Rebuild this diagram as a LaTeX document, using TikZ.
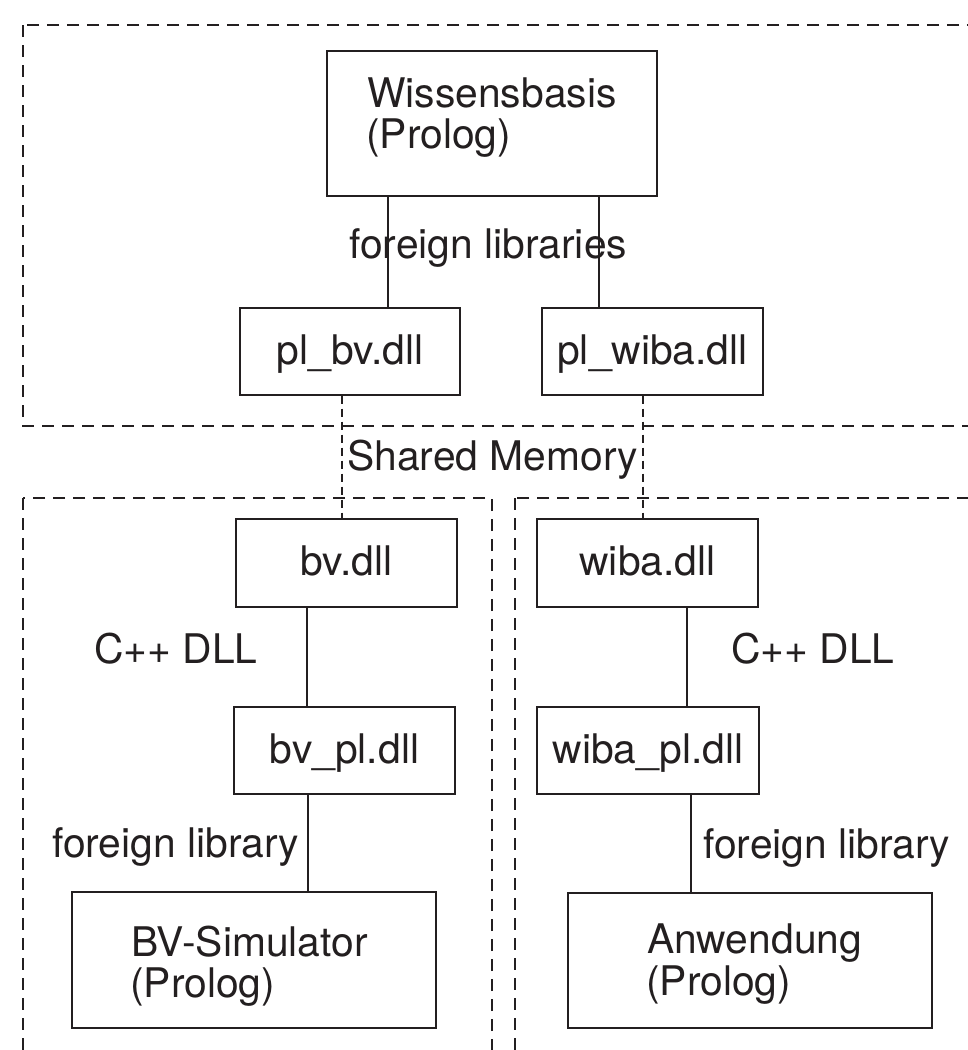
\documentclass[tikz,border=0pt]{standalone}
\usepackage{fontspec}
\setmainfont{TeX Gyre Heros}
\definecolor{ink}{RGB}{35,31,32}
\begin{document}
\begin{tikzpicture}[x=1pt,y=-1pt,
  txt/.style={font=\fontsize{40.8pt}{41pt}\selectfont, text=ink},
  box/.style={draw=ink, line width=1.3pt, inner sep=0pt, txt},
  dllbox/.style={box, text height=25pt, text depth=0pt},
  lbl/.style={txt, inner sep=0pt, anchor=base west},
  frame/.style={draw=ink, line width=1.3pt, dash pattern=on 12pt off 8pt},
  link/.style={draw=ink, line width=1.2pt},
  shm/.style={draw=ink, line width=1.2pt, dash pattern=on 8pt off 5pt}]
\useasboundingbox (0,0) rectangle (968,1050);
\fill[white] (0,0) rectangle (968,1050);
\clip (0,0) rectangle (968,1050);

% frames
\draw[frame] (23,25) rectangle (1000,426);
\draw[frame] (23,498) rectangle (492,1090);
\draw[frame] (515,498) rectangle (1000,1090);

% boxes
\node[box, minimum width=330pt, minimum height=145pt] (wb) at (492,123.5) {};
\node[dllbox, minimum width=220pt, minimum height=87pt] (plbv) at (350,351.5) {pl\_bv.dll};
\node[dllbox, minimum width=221pt, minimum height=87pt] (plwiba) at (652.5,351.5) {pl\_wiba.dll};
\node[dllbox, minimum width=221pt, minimum height=88pt] (bv) at (346.5,563) {bv.dll};
\node[dllbox, minimum width=221pt, minimum height=88pt] (wiba) at (647.5,563) {wiba.dll};
\node[dllbox, minimum width=221pt, minimum height=87pt] (bvpl) at (344.5,750.5) {bv\_pl.dll};
\node[dllbox, minimum width=222pt, minimum height=87pt] (wibapl) at (648,750.5) {wiba\_pl.dll};
\node[box, minimum width=364pt, minimum height=136pt] (bvsim) at (254,960) {};
\node[box, minimum width=364pt, minimum height=135pt] (anw) at (750,960.5) {};

% box texts
\node[lbl] (wbt1) at (367,107) {Wissensbasis};
\node[lbl] (wbt2) at (366,148) {(Prolog)};
\node[lbl] (bvst1) at (131,956) {BV-Simulator};
\node[lbl] (bvst2) at (130,997) {(Prolog)};
\node[lbl] (anwt1) at (647,953) {Anwendung};
\node[lbl] (anwt2) at (646,995) {(Prolog)};

% connectors
\draw[link] (388,0 |- wb.south) -- (388,0 |- plbv.north);
\draw[link] (599,0 |- wb.south) -- (599,0 |- plwiba.north);
\draw[shm] (342,0 |- plbv.south) -- (342,0 |- bv.north);
\draw[shm] (643,0 |- plwiba.south) -- (643,0 |- wiba.north);
\draw[link] (307,0 |- bv.south) -- (307,0 |- bvpl.north);
\draw[link] (308,0 |- bvpl.south) -- (308,0 |- bvsim.north);
\draw[link] (687,0 |- wiba.south) -- (687,0 |- wibapl.north);
\draw[link] (691,0 |- wibapl.south) -- (691,0 |- anw.north);

% labels
\node[lbl] (fl) at (349,258) {foreign libraries};
\node[lbl] (sm) at (347,470) {Shared Memory};
\node[lbl] (cppl) at (94,663) {C++ DLL};
\node[lbl] (cppr) at (731,663) {C++ DLL};
\node[lbl] (fll) at (52,857) {foreign library};
\node[lbl] (flr) at (703,858) {foreign library};
\end{tikzpicture}
\end{document}
